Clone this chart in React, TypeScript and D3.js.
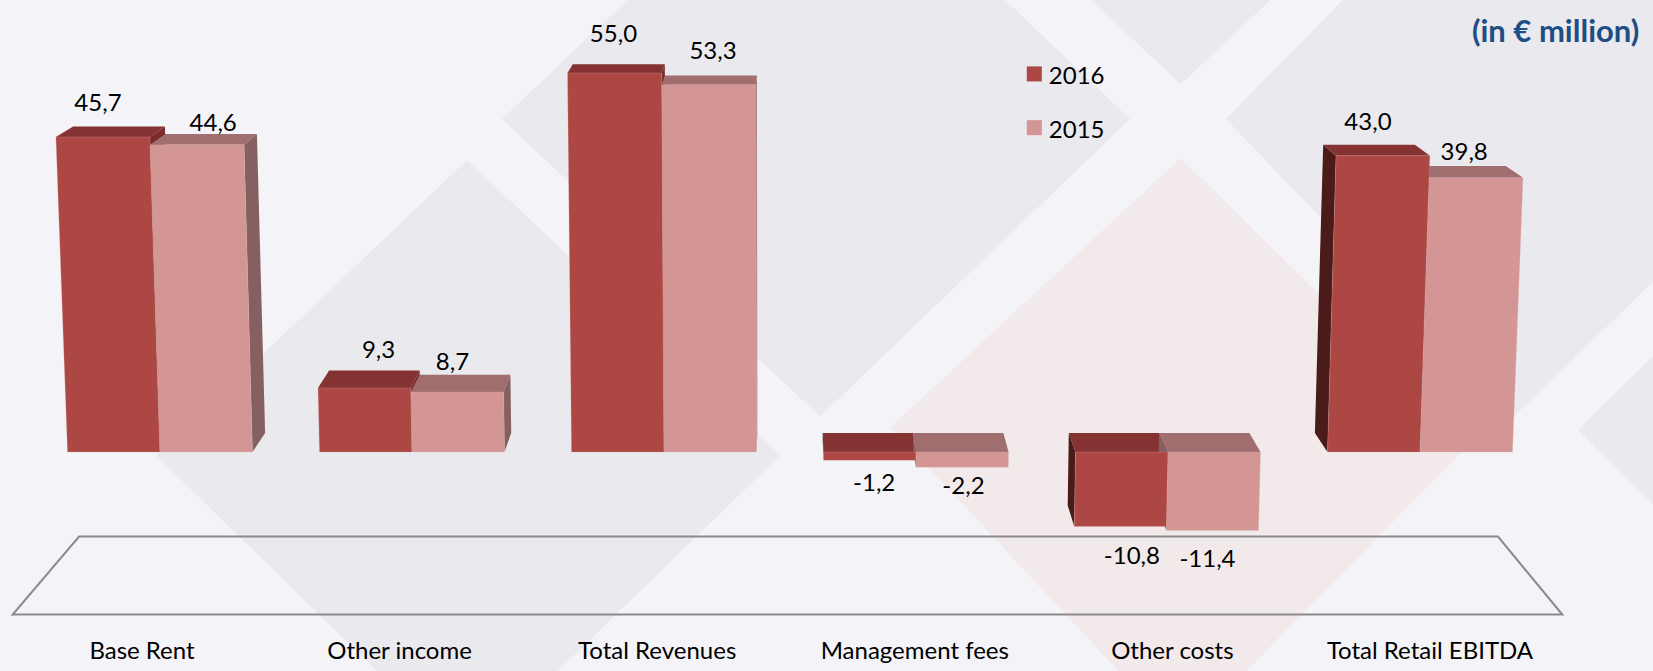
import React from "react";
import * as d3 from "d3";

const W = 1653, H = 671, S = 1653 / 1568;
const categories = ["Base Rent", "Other income", "Total Revenues", "Management fees", "Other costs", "Total Retail EBITDA"];
const series = ["2016", "2015"];
const values2016 = [45.7, 9.3, 55.0, -1.2, -10.8, 43.0];
const values2015 = [44.6, 8.7, 53.3, -2.2, -11.4, 39.8];
const fmt = (v: number) => v.toFixed(1).replace(".", ",");

// layout only: label offsets from the back edge of each bar's top face (shrunk px)
const labelOffsets2016 = [[-20, -24], [4, -21], [-5, -30], [6, 46], [17, 115], [-1, -23]];
const labelOffsets2015 = [[2, -12], [-12, -13], [2, -25], [5, 49], [3, 118], [4, -15]];

const colors: Record<string, any> = {
  "2016": { front: "#ad4743", top: "#853232", right: "#7c2b2b", left: "#4a1b18", legend: "#ad4743" },
  "2015": { front: "#d49595", top: "#a06e6e", right: "#866060", left: "#866060", legend: "#d49595" },
};

// background shapes (shrunk picture px)
const greyShapes = [
  [[476, 113], [778, 395], [1072, 113], [775, -170]],
  [[443, 152], [148, 432], [443, 720], [740, 432]],
  [[1035, 0], [1120, 80], [1205, 0]],
  [[1163, 113], [1435, 396], [1720, 120], [1440, -170]],
  [[1497, 408], [1600, 510], [1600, 306]],
];
const pinkShape = [[1120, 150], [845, 405], [1120, 700], [1395, 420]];
const framePts = [[75, 509], [1421, 509], [1482, 583], [12, 583]];

const xGroup = d3.scaleBand<string>().domain(categories).range([34, 1546]);
const xBar = d3.scaleBand<string>().domain(series).range([33.5, 218.5]);
const y = d3.scaleLinear().domain([0, 55]).range([452, 452 - 55 * 6.89]);
const xLabel = d3.scalePoint<string>().domain(categories).range([142, 1430]);

const VX = 790, VY = -257, DX = 0.0235, DY = 0.0268, LX = 777, LK = 5.2e-5;
type P = [number, number];
const front = (x: number, v: number): P => [x + (x - LX) * LK * (y(0) - y(v)), y(v)];
const back = (p: P): P => [p[0] + (VX - p[0]) * DX, p[1] + (VY - p[1]) * DY];
const pts = (a: number[][]) => a.map((p) => `${p[0].toFixed(1)},${p[1].toFixed(1)}`).join(" ");
const scaled = (a: number[][]) => a.map((p) => [p[0] * S, p[1] * S]);

function Bar3D(cat: string, s: string, v: number) {
  const x0 = xGroup(cat)! + xBar(s)!;
  const x1 = x0 + xBar.bandwidth();
  const top = Math.max(v, 0), bot = Math.min(v, 0);
  const tl = front(x0, top), tr = front(x1, top), bl = front(x0, bot), br = front(x1, bot);
  const c = colors[s];
  return {
    back: (
      <g key={cat + s + "b"}>
        {tr[0] < VX && <polygon points={pts([tr, back(tr), back(br), br])} fill={c.right} />}
        {tl[0] > VX && <polygon points={pts([tl, back(tl), back(bl), bl])} fill={c.left} />}
        <polygon points={pts([tl, back(tl), back(tr), tr])} fill={c.top} />
      </g>
    ),
    front: <polygon key={cat + s + "f"} points={pts([tl, tr, br, bl])} fill={c.front} stroke="#e0b5b5" strokeWidth={0.6} strokeOpacity={0.4} />,
    labelAnchor: [(back(tl)[0] + back(tr)[0]) / 2, back(tl)[1]],
  };
}

export default function App() {
  const font = "Lato, 'Open Sans', sans-serif";
  const bars: any[] = [];
  categories.forEach((cat, i) => {
    bars.push({ i, s: "2016", ...Bar3D(cat, "2016", values2016[i]), v: values2016[i], off: labelOffsets2016[i] });
    bars.push({ i, s: "2015", ...Bar3D(cat, "2015", values2015[i]), v: values2015[i], off: labelOffsets2015[i] });
  });
  return (
    <svg width={W} height={H} viewBox={`0 0 ${W} ${H}`} style={{ position: "absolute", left: 0, top: 0, display: "block" }} fontFamily={font}>
      <rect width={W} height={H} fill="#f3f3f8" />
      {greyShapes.map((g, i) => <polygon key={i} points={pts(scaled(g))} fill="#e9e9ee" />)}
      <polygon points={pts(scaled(pinkShape))} fill="#f2e9ea" />
      <polygon points={pts(scaled(framePts))} fill="none" stroke="#8b8b8b" strokeWidth={2} />
      {bars.map((b) => b.back)}
      {bars.map((b) => b.front)}
      {bars.map((b) => (
        <text key={b.i + b.s} x={b.labelAnchor[0] + b.off[0] * S} y={b.labelAnchor[1] + b.off[1] * S} textAnchor="middle" dominantBaseline="central" fontSize={24} fill="#000">
          {fmt(b.v)}
        </text>
      ))}
      {categories.map((c) => (
        <text key={c} x={xLabel(c)} y={649} textAnchor="middle" dominantBaseline="central" fontSize={24} fill="#000">{c}</text>
      ))}
      {series.map((s, i) => (
        <g key={s} transform={`translate(${974 * S},${(63 + i * 51) * S})`}>
          <rect width={15} height={15} fill={colors[s].legend} />
          <text x={22} y={8} dominantBaseline="central" fontSize={24} fill="#000">{s}</text>
        </g>
      ))}
      <text x={1555 * S} y={28 * S} textAnchor="end" dominantBaseline="central" fontSize={31} fontWeight={700} fill="#1f4e85">(in € million)</text>
    </svg>
  );
}
